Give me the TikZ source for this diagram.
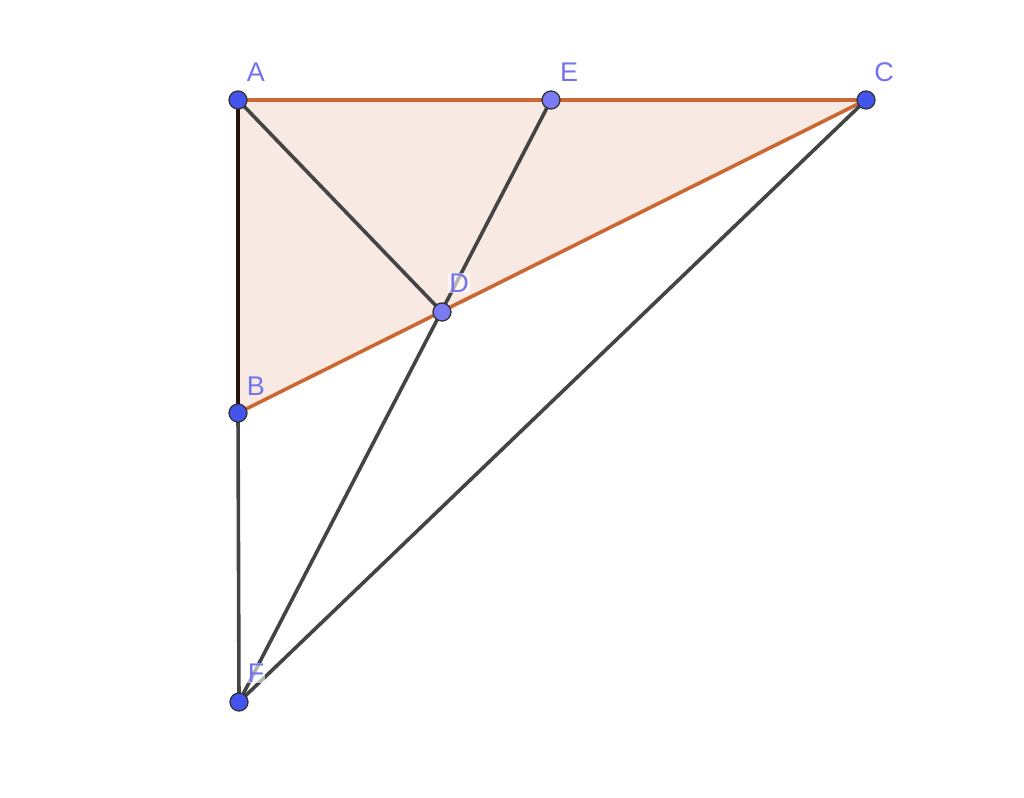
\documentclass[tikz,border=0pt]{standalone}
\usepackage{fontspec}
\setmainfont{Liberation Sans}
\definecolor{fillc}{HTML}{F8EAE2}
\definecolor{edgec}{HTML}{CC6633}
\definecolor{linec}{HTML}{444444}
\definecolor{ptc}{HTML}{4455EE}
\definecolor{ptl}{HTML}{7A7AF5}
\definecolor{labc}{HTML}{7373F0}
\begin{document}
\begin{tikzpicture}[x=1pt,y=-1pt,
  pt/.style={circle,draw=black!80,line width=1.3pt,fill=ptc,inner sep=0pt,minimum size=18pt},
  ptlight/.style={pt,fill=ptl},
  lab/.style={text=labc,font=\fontsize{27}{27}\selectfont,inner sep=1pt},
  halo/.style={fill=white,fill opacity=0.6,text opacity=1},
  seg/.style={line width=3.6pt,draw=linec},
  tri/.style={line width=3.6pt,draw=edgec}]
\useasboundingbox (0,0) rectangle (1024,797);
\coordinate (A) at (238,100);
\coordinate (E) at (551,100);
\coordinate (C) at (866,100);
\coordinate (D) at (442,312);
\coordinate (B) at (238,413);
\coordinate (F) at (239,702);
\fill[fillc] (A) -- (B) -- (C) -- cycle;
\draw[tri] (A) -- (C);
\draw[tri] (B) -- (C);
\draw[line width=3.6pt,draw=black!70!edgec!60!black] (A) -- (B);
\draw[seg] (A) -- (D);
\draw[seg] (E) -- (F);
\draw[seg] (B) -- (F);
\draw[seg] (F) -- (C);
\node[pt] (nA) at (A) {};
\node[ptlight] (nE) at (E) {};
\node[pt] (nC) at (C) {};
\node[ptlight] (nD) at (D) {};
\node[pt] (nB) at (B) {};
\node[pt] (nF) at (F) {};
\node[lab] (lA) at (256,72) {A};
\node[lab] (lE) at (569,72) {E};
\node[lab] (lC) at (884,72) {C};
\node[lab,halo] (lD) at (459,283) {D};
\node[lab] (lB) at (256,386) {B};
\node[lab,halo] (lF) at (256,673) {F};
\end{tikzpicture}
\end{document}
